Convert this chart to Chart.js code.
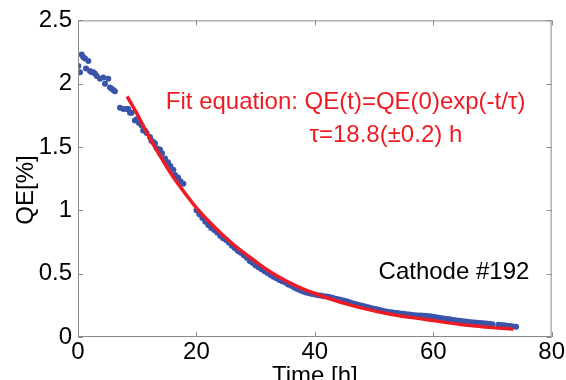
<!DOCTYPE html>
<html>
<head>
<meta charset="utf-8">
<script src="https://cdn.jsdelivr.net/npm/chart.js@4"></script>
<style>
  html, body { margin: 0; padding: 0; background: #fff; }
  canvas { display: block; }
</style>
</head>
<body>
<canvas id="qeChart" width="566" height="380"></canvas>
<script>
// Measured QE data (time in hours, QE in %)
const timeH = [
  0.05, 0.34, 0.62, 0.9, 1.18, 1.35, 1.74, 2.03, 2.31, 2.58, 2.87, 3.16, 3.71, 4.27, 4.56, 5.11,
  5.4, 5.69, 5.96, 6.24, 7.09, 7.65, 8.22, 8.49, 8.78, 9.06, 9.62, 9.91, 10.3, 10.75, 11.0, 11.3,
  11.6, 12.15, 12.4, 12.7, 13.0, 13.3, 13.84, 14.2, 14.7, 15.2, 15.6, 16.1, 16.4, 16.9, 17.3, 17.8,
  20.0, 20.5, 21.0, 21.5, 22.0, 22.5, 23.0, 23.5, 24.0, 24.5, 25.0, 25.5, 26.0, 26.5, 27.0, 27.5,
  28.0, 28.5, 29.0, 29.5, 30.0, 30.5, 31.0, 31.5, 32.0, 32.5, 33.0, 33.5, 34.0, 34.5, 35.0, 35.5,
  36.0, 36.5, 37.0, 37.5, 38.0, 38.5, 39.0, 39.5, 40.0, 40.5, 41.0, 41.5, 42.0, 42.5, 43.0, 43.5,
  44.0, 44.5, 45.0, 45.5, 46.0, 46.5, 47.0, 47.5, 48.0, 48.5, 49.0, 49.5, 50.0, 50.5, 51.0, 51.5,
  52.0, 52.5, 53.0, 53.5, 54.0, 54.5, 55.0, 55.5, 56.0, 56.5, 57.0, 57.5, 58.0, 58.5, 59.0, 59.5,
  60.0, 60.5, 61.0, 61.5, 62.0, 62.5, 63.0, 63.5, 64.0, 64.5, 65.0, 65.5, 66.0, 66.5, 67.0, 67.5,
  68.0, 68.5, 69.0, 69.5, 70.0, 71.0, 71.5, 72.0, 72.5, 73.0, 73.5, 74.0
];
const qePct = [
  2.14, 2.09, 2.23, 2.21, 2.20, 2.12, 2.18, 2.10, 2.09, 2.09, 2.08, 2.06, 2.04, 2.05, 2.00, 2.04,
  1.97, 1.96, 1.95, 1.94, 1.81, 1.80, 1.80, 1.80, 1.77, 1.77, 1.71, 1.72, 1.69, 1.67, 1.63, 1.63,
  1.61, 1.58, 1.55, 1.54, 1.53, 1.49, 1.48, 1.45, 1.41, 1.38, 1.35, 1.32, 1.28, 1.26, 1.23, 1.21,
  1.00, 0.97, 0.94, 0.91, 0.885, 0.86, 0.845, 0.825, 0.80, 0.78, 0.765, 0.745, 0.72, 0.70, 0.68, 0.665,
  0.645, 0.625, 0.60, 0.585, 0.565, 0.55, 0.535, 0.52, 0.505, 0.49, 0.475, 0.463, 0.45, 0.44, 0.43, 0.415,
  0.405, 0.39, 0.38, 0.37, 0.36, 0.352, 0.345, 0.34, 0.335, 0.33, 0.327, 0.322, 0.32, 0.315, 0.31, 0.303,
  0.298, 0.293, 0.287, 0.28, 0.272, 0.265, 0.258, 0.252, 0.246, 0.24, 0.234, 0.229, 0.224, 0.219, 0.213, 0.207,
  0.202, 0.198, 0.195, 0.192, 0.189, 0.186, 0.183, 0.18, 0.177, 0.174, 0.172, 0.17, 0.169, 0.168, 0.166, 0.164,
  0.16, 0.156, 0.152, 0.148, 0.145, 0.142, 0.138, 0.135, 0.131, 0.128, 0.125, 0.122, 0.119, 0.117, 0.115, 0.112,
  0.11, 0.108, 0.106, 0.104, 0.10, 0.097, 0.095, 0.092, 0.089, 0.086, 0.082, 0.08
];

// Fit curve
const fitTime = [8.3, 10, 12, 14, 16, 18, 20, 23, 26, 29.6, 33, 37, 42, 47, 53, 59, 65, 70, 73.5];
const fitQE = [1.90, 1.76, 1.58, 1.42, 1.27, 1.14, 1.02, 0.87, 0.74, 0.61, 0.50, 0.40, 0.31, 0.24, 0.178, 0.137, 0.096, 0.074, 0.062];

const xTicks = [0, 20, 40, 60, 80];
const yTicks = [0, 0.5, 1, 1.5, 2, 2.5];

const RED = 'rgb(237, 28, 36)';
const BLUE = 'rgb(58, 84, 170)';
const FONT = 'Liberation Sans, Arial, sans-serif';

// box around the plot with inward ticks (matlab style), plus text
const boxPlugin = {
  id: 'box',
  afterDraw(chart) {
    const ctx = chart.ctx;
    const a = chart.chartArea;
    const xs = chart.scales.x, ys = chart.scales.y;
    const len = 5;
    ctx.save();
    ctx.strokeStyle = '#8a8a8a';
    ctx.lineWidth = 1;
    ctx.strokeRect(a.left + 0.5, a.top + 0.5, a.right - a.left - 1, a.bottom - a.top - 1);
    ctx.beginPath();
    xTicks.forEach(v => {
      const px = Math.round(xs.getPixelForValue(v)) + 0.5;
      ctx.moveTo(px, a.bottom); ctx.lineTo(px, a.bottom - len);
      ctx.moveTo(px, a.top); ctx.lineTo(px, a.top + len);
    });
    yTicks.forEach(v => {
      const py = Math.round(ys.getPixelForValue(v)) + 0.5;
      ctx.moveTo(a.left, py); ctx.lineTo(a.left + len, py);
      ctx.moveTo(a.right, py); ctx.lineTo(a.right - len, py);
    });
    ctx.stroke();

    ctx.font = '24px ' + FONT;
    ctx.textAlign = 'center';
    ctx.textBaseline = 'middle';

    // y axis title, sits a little below the middle like the original
    ctx.fillStyle = '#000';
    ctx.save();
    ctx.translate(26, 190);
    ctx.rotate(-Math.PI / 2);
    ctx.fillText('QE[%]', 0, 0);
    ctx.restore();

    ctx.fillStyle = RED;
    ctx.fillText('Fit equation: QE(t)=QE(0)exp(-t/\u03c4)', xs.getPixelForValue(45.2), ys.getPixelForValue(1.85));
    ctx.fillText('\u03c4=18.8(\u00b10.2) h', xs.getPixelForValue(52), ys.getPixelForValue(1.59));
    ctx.fillStyle = '#000';
    ctx.fillText('Cathode #192', xs.getPixelForValue(63.5), ys.getPixelForValue(0.51));
    ctx.restore();
  }
};

const ctx = document.getElementById('qeChart').getContext('2d');
const qeChart = new Chart(ctx, {
  type: 'scatter',
  data: {
    datasets: [
      {
        label: 'fit',
        type: 'line',
        data: fitTime.map((t, i) => ({ x: t, y: fitQE[i] })),
        borderColor: RED,
        borderWidth: 3.5,
        pointRadius: 0,
        tension: 0.4,
        fill: false,
        order: 0
      },
      {
        label: 'QE',
        data: timeH.map((t, i) => ({ x: t, y: qePct[i] })),
        backgroundColor: BLUE,
        borderColor: BLUE,
        borderWidth: 0,
        pointRadius: 3,
        order: 1
      }
    ]
  },
  options: {
    responsive: false,
    animation: false,
    layout: { padding: { top: 20, right: 14, left: 0, bottom: 0 } },
    plugins: {
      legend: { display: false },
      tooltip: { enabled: false }
    },
    scales: {
      x: {
        type: 'linear',
        min: 0,
        max: 80,
        afterBuildTicks: s => { s.ticks = xTicks.map(v => ({ value: v })); },
        afterFit: s => { s.height = 43; },
        grid: { display: false, drawTicks: false },
        border: { display: false },
        ticks: { padding: 1, color: '#000', font: { family: FONT, size: 24 }, maxRotation: 0 },
        title: {
          display: true,
          text: 'Time [h]',
          color: '#000',
          font: { family: FONT, size: 24, lineHeight: 1 },
          padding: { top: 0, bottom: -8 }
        }
      },
      y: {
        type: 'linear',
        min: 0,
        max: 2.5,
        afterBuildTicks: s => { s.ticks = yTicks.map(v => ({ value: v })); },
        afterFit: s => { s.width = 78; },
        grid: { display: false, drawTicks: false },
        border: { display: false },
        ticks: {
          padding: 6,
          color: '#000',
          font: { family: FONT, size: 24 },
          callback: v => String(v)
        },
        title: { display: false }
      }
    }
  },
  plugins: [boxPlugin]
});
</script>
</body>
</html>
